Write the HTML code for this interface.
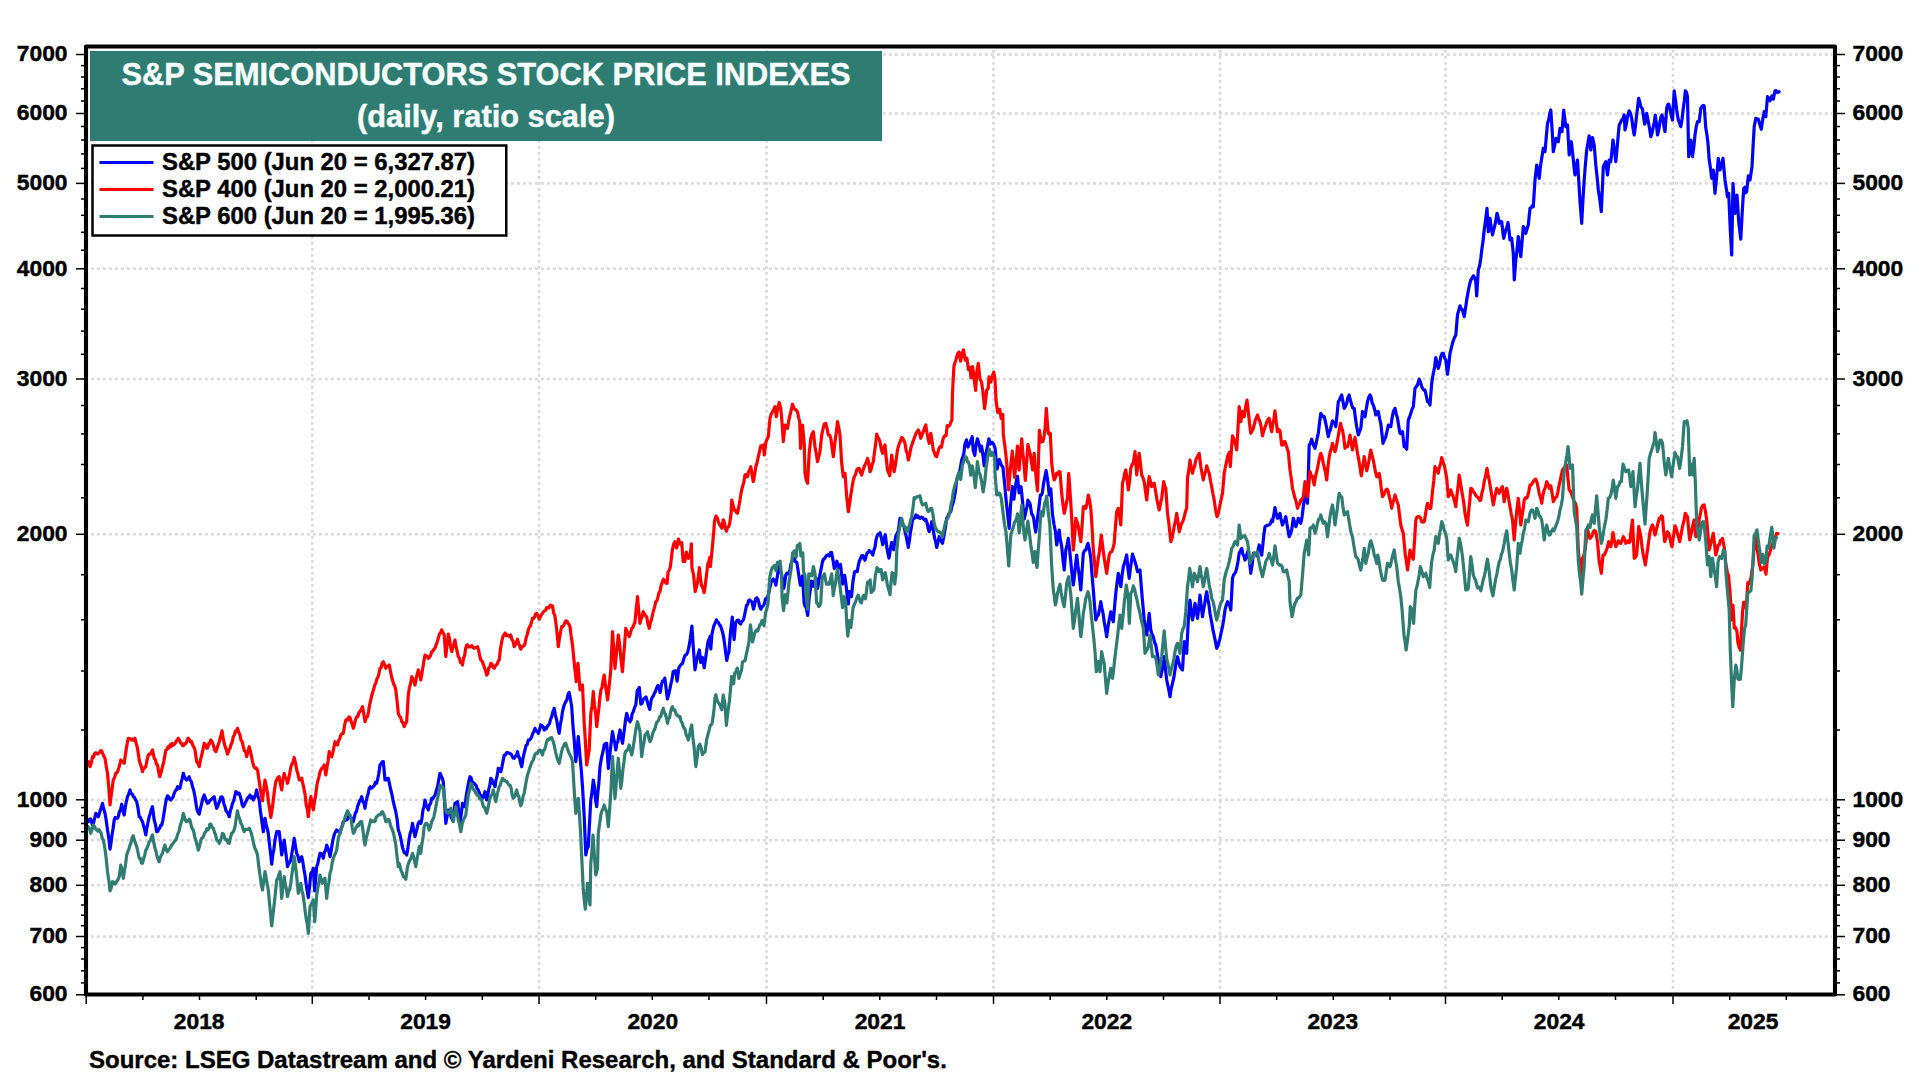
<!DOCTYPE html>
<html><head><meta charset="utf-8"><title>S&amp;P Semiconductors Stock Price Indexes</title>
<style>html,body{margin:0;padding:0;background:#fff;}body{width:1920px;height:1080px;overflow:hidden;}svg{display:block;}text{font-family:"Liberation Sans",sans-serif;font-weight:bold;}</style></head><body>
<svg width="1920" height="1080" viewBox="0 0 1920 1080">
<rect x="0" y="0" width="1920" height="1080" fill="#ffffff"/>
<g stroke="#d8d8d8" stroke-width="2.5" stroke-dasharray="2.8 3.2" fill="none"><line x1="91" y1="936.5" x2="1832" y2="936.5"/><line x1="91" y1="885.3" x2="1832" y2="885.3"/><line x1="91" y1="840.2" x2="1832" y2="840.2"/><line x1="91" y1="799.8" x2="1832" y2="799.8"/><line x1="91" y1="534.3" x2="1832" y2="534.3"/><line x1="91" y1="379" x2="1832" y2="379"/><line x1="91" y1="268.8" x2="1832" y2="268.8"/><line x1="91" y1="183.4" x2="1832" y2="183.4"/><line x1="91" y1="113.5" x2="1832" y2="113.5"/><line x1="91" y1="54.5" x2="1832" y2="54.5"/><line x1="312.3" y1="50" x2="312.3" y2="992"/><line x1="539" y1="50" x2="539" y2="992"/><line x1="766.5" y1="50" x2="766.5" y2="992"/><line x1="993.5" y1="50" x2="993.5" y2="992"/><line x1="1220" y1="50" x2="1220" y2="992"/><line x1="1445.5" y1="50" x2="1445.5" y2="992"/><line x1="1673" y1="50" x2="1673" y2="992"/></g>
<polyline points="88.3,821.7 89.6,819.2 90.8,819.2 92.5,825 93.6,822.3 94.7,818.1 95.8,813.3 97.1,814.2 98.3,816.7 99.4,813.3 100.4,809.8 101.5,807.2 102.5,803.3 103.8,809.3 105,813.3 106.2,820.3 107.5,830 108.8,838 110,849.2 111,843 112.1,834.4 113.1,828.2 114.2,820 115.2,817.5 116.2,818.1 117.3,818.3 118.3,816.7 119.4,811.6 120.6,809.8 121.7,804.2 122.9,810.9 124.2,815 125.3,807.3 126.4,801.2 127.5,796.7 128.8,793.5 130,790 131.1,793.7 132.2,794 133.3,796.7 134.4,797.4 135.6,799.7 136.7,801.7 137.9,807.6 139.2,816.7 140.3,817.4 141.4,819.8 142.5,821.7 143.6,826.1 144.7,829.6 145.8,835 146.9,828 148.1,821.8 149.2,816.7 150.3,813.2 151.4,809.3 152.5,806.7 154.2,820 155.4,824.2 156.7,831.7 157.7,831.5 158.7,829.2 159.7,828.2 160.7,825.3 161.7,825 162.8,820.6 163.9,814 165,806.7 166.2,800 167.5,795.8 168.6,796.7 169.7,799.4 170.8,800 171.9,798.5 173.1,797 174.2,793.3 175.3,790.8 176.4,790 177.5,786.7 178.8,788.1 180,788.3 181.1,782.7 182.2,778.6 183.3,773.3 184.4,776.9 185.6,779 186.7,780 187.9,778.4 189.2,776.7 190.3,780.3 191.4,781.8 192.5,786.7 193.8,790.8 195,796.7 196.7,808.3 197.9,812.3 199.2,814.2 200.4,808.5 201.7,803.3 202.9,798.1 204.2,795 205.3,797.9 206.4,801.2 207.5,803.3 208.6,802.8 209.7,800.7 210.8,800 211.9,798.7 213.1,797.8 214.2,796.7 215.4,803.4 216.7,808.3 217.7,806.1 218.7,803.3 219.7,801.3 220.7,797.4 221.7,796.7 222.8,798.4 223.9,804 225,806.7 226,810.8 227.1,812 228.1,813.8 229.2,816.7 230.3,811.1 231.4,807.8 232.5,803.3 233.6,801.1 234.7,796.5 235.8,791.7 236.9,792.4 238.1,794 239.2,793.3 240.2,795.8 241.2,800 242.3,804.9 243.3,806.7 244.4,804.7 245.6,802.1 246.7,800 247.8,797.5 248.9,796.8 250,795 251.1,798.2 252.2,796.7 253.3,800 254.4,797.6 255.6,794.4 256.7,790 257.9,796.3 259.2,800 260.4,810.8 261.7,820 263.3,831.7 265,818.3 266.1,824.4 267.2,828.4 268.3,833.3 269.4,843.8 270.6,853.6 271.7,864.2 272.8,854.6 273.9,849.3 275,840 276.7,831.7 277.9,831.9 279.2,831.7 280.4,842.3 281.7,855 282.9,847.5 284.2,840 285.3,848.8 286.4,857.3 287.5,866.7 288.6,863.9 289.7,862.4 290.8,860 291.9,853.2 293.1,845.9 294.2,838.3 295.4,845.7 296.7,853.3 297.9,855.9 299.2,861.7 300.4,858.2 301.7,856.7 302.8,861.7 303.9,869.2 305,875 306.1,883.7 307.2,891 308.3,897.5 309.6,886.4 310.8,873.3 312.1,871.9 313.3,868.3 314.7,890.8 315.7,877.9 316.7,866.7 317.8,863.4 318.9,858.4 320,853.3 321.1,853.6 322.2,855 323.3,858.3 324.4,852.2 325.6,850.3 326.7,845 327.8,848 328.9,851.5 330,856.7 331.1,851 332.2,843.9 333.3,838.3 334.4,834.1 335.6,831.6 336.7,830 337.8,831.2 338.9,831.1 340,833.3 341.1,828.7 342.2,826.3 343.3,821.7 344.4,821 345.6,820 346.7,820 347.8,818.8 348.9,816.2 350,816.7 351.1,817.9 352.2,819.7 353.3,821.7 354.4,816.9 355.4,812.8 356.5,811.8 357.5,806.7 358.5,804.2 359.6,800.7 360.6,799.5 361.7,796.7 362.8,801.6 363.9,802.8 365,808.3 366,801.7 367.1,797.1 368.1,794.1 369.2,788.3 370.2,786.8 371.2,788.2 372.3,787.7 373.3,786.7 374.4,785.2 375.4,782.4 376.5,783.3 377.5,780 378.8,773.5 380,765 381.1,763.9 382.2,761.8 383.3,761.7 385,780 386.1,779.9 387.2,778.5 388.3,778.3 389.6,784.4 390.8,790 392.1,795.2 393.3,801.7 394.6,807.1 395.8,811.7 397.1,819.3 398.3,830 399.6,833.5 400.8,838.3 402.1,845.8 403.3,850 404.4,852.9 405.6,852.7 406.7,855 407.9,847.9 409.2,838.3 410.3,832.7 411.4,829.8 412.5,823.3 413.8,830.8 415,836.7 416,832.6 417.1,828.3 418.1,823.7 419.2,821.7 420.8,823.3 421.9,818.8 422.9,810.1 424,806.9 425,800 426.1,804.9 427.2,806.9 428.3,810 429.4,805 430.6,803.5 431.7,798.3 432.8,798.8 433.9,796.8 435,795 436.2,790.9 437.5,786.7 438.8,779.6 440,773.3 441.1,775.6 442.2,777.9 443.3,781.7 444.6,803.1 445.8,823.3 447.1,816.4 448.3,810 449.4,811.5 450.4,813.7 451.5,818.1 452.5,820 453.8,811 455,803.3 456.2,802.5 457.5,801.7 458.8,811.9 460,823.3 461.2,814.6 462.5,803.3 463.8,806.4 465,806.7 466.2,795.9 467.5,788.3 468.8,781.5 470,776.7 471,777.7 472.1,781.7 473.1,782.6 474.2,783.3 475.2,784.5 476.2,785.7 477.3,788.9 478.3,790 479.4,793.2 480.4,795.6 481.5,795.7 482.5,798.3 483.8,796.3 485,791.7 486.7,800 487.7,795.2 488.8,789.1 489.8,785.4 490.8,778.3 491.9,779.5 492.9,783.3 494,783.2 495,786.7 496.1,779.4 497.2,775.8 498.3,768.3 499.6,769 500.8,771.7 501.9,767 503.1,760.9 504.2,755 505.4,754.9 506.7,752.5 507.9,752.7 509.2,753.2 510.4,753.7 511.7,755 512.9,757.9 514.2,758.3 515.3,756.5 516.4,755.4 517.5,751.7 518.5,756.7 519.6,757.9 520.6,763.1 521.7,766.7 522.8,759.8 523.9,754 525,750 526.1,745.2 527.2,744.6 528.3,740 529.4,739.9 530.6,738.9 531.7,736.7 532.8,733.3 533.9,731.5 535,728.3 536.1,731 537.2,731.3 538.3,733.3 539.6,729.4 540.8,725 541.9,725.7 543.1,726.9 544.2,730 545.2,728 546.2,728.8 547.3,726.5 548.3,725 549.4,723.7 550.6,719.3 551.7,716.7 552.9,711.7 554.2,708.3 555.4,715.1 556.7,720 557.9,727.8 559.2,733.3 560.3,724.5 561.4,719.5 562.5,711.7 563.6,706.9 564.7,703.7 565.8,701.7 566.9,699.9 568.1,694 569.2,692.5 570.4,698.7 571.7,706.7 572.9,725 574.2,740 575.8,761.7 577.1,748.7 578.3,736.7 580,756.7 581.2,769.2 582.5,786.7 584.2,816.7 585.8,855 587.1,848.7 588.3,846.7 589.6,821.7 590.8,800 592.1,791.6 593.3,780 594.4,786.3 595.6,800.4 596.7,806.7 597.8,792.6 598.9,783 600,766.7 601.7,756.7 602.9,752.2 604.2,745 605.4,743.5 606.7,743.3 608.3,768.3 609.4,758.3 610.4,749.9 611.5,739.5 612.5,731.7 613.6,738.3 614.7,742.3 615.8,750 616.9,743.3 617.9,741.6 619,734.3 620,730 621.2,737 622.5,743.3 623.5,735.7 624.6,727.7 625.6,719.3 626.7,713.3 627.8,717.5 628.9,720.5 630,721.7 631.1,719.9 632.2,713.7 633.3,711.7 634.6,707.4 635.8,705 637.2,690.6 638.2,689.5 639.3,687.5 640.8,704.2 642.1,703.2 643.4,699 644.7,698.1 646,696.9 647.3,701.7 648.5,705.8 649.7,709.4 651.2,700 652.3,697.1 653.3,696 654.4,693.1 655.4,691.7 656.7,687.7 658,685.4 659.1,687.6 660.1,692.7 661.7,683.3 662.7,680.9 663.8,681.5 664.8,678.1 666.1,688.4 667.4,699 668.7,694.3 670,688.5 671,683.5 672.1,678.9 673.1,671.9 674.4,671 675.7,670.8 677.1,681.2 678.9,667.7 680.1,665.7 681.3,664.3 682.5,663.5 683.8,658.8 685.1,655.2 686.4,654.8 687.7,652.1 689,646.7 690.3,638.5 691.9,626 693.4,649 695,669.8 696.3,662.4 697.6,656.2 699.4,650 700.7,662.5 702.3,657.3 704.2,667.7 705.9,656.2 707,648.4 708,641.7 709.1,639.2 710.1,636.5 710.8,649 711.9,634.4 713.8,626 715.1,623.2 716.4,619.8 717.4,621.9 718.4,622.4 719.5,625 720.5,625.8 721.6,629 722.6,632.3 723.6,637.1 724.7,644.8 725.7,652.8 726.8,660.4 727.8,654.8 728.9,652.1 730.4,633.3 732.3,617.2 734.1,639.6 735.6,622.9 737.2,620.3 738.4,620.1 739.6,623.2 740.8,624 741.9,621.2 742.9,620.8 744,617.7 745.3,611.4 746.6,605.2 747.6,604.7 748.6,600.6 749.7,600 750.8,600.9 752,601.9 753.5,609.2 754.6,605 755.6,598.8 756.9,597.8 758.2,599.8 759.5,606 760.8,609.2 762.1,606.5 763.4,606 764.5,603.3 765.5,598.8 766.6,599.4 767.6,596.7 768.6,593.6 769.7,588.3 771.2,582.1 772.3,579.9 773.3,579 774.6,580.7 775.9,585.2 777,578.5 778,571.7 779.6,565.4 780.6,571.5 781.7,574.8 782.7,580.9 783.8,588.3 784.8,582.9 785.8,574.8 786.9,573.1 787.9,573.8 789,573.1 790,569.6 791,563.8 792.1,561.2 793.1,559.1 794.2,558.1 795.5,561.6 796.8,562.3 798.3,571.7 799.4,579.5 800.4,585.2 801.5,581.9 802.5,575.8 804.1,602.9 805.1,606.2 806.1,607.1 807.7,615.4 809.3,596.7 810.3,589.7 811.4,581 812.4,584.3 813.4,586.2 814.7,581 816,577.9 817.6,588.3 819.2,579 820.2,573.5 821.2,568.5 822.3,562.7 823.3,559.2 824.4,558.7 825.4,557.3 826.5,555.5 827.8,554.9 829.1,556 830.3,552.7 831.5,552.4 833.2,561.2 834.3,568.5 835.6,566.5 836.9,561.2 837.9,565.4 839,567.5 840.5,564.4 841.6,574.4 842.6,584.2 843.6,579.9 844.7,575.3 846.2,586.2 847.3,596.3 848.3,604 849.4,591.5 850.4,593.9 851.5,596.7 853,581 854.6,571.7 855.9,571.3 857.2,571.7 858.2,565.9 859.3,561.2 860.5,558.5 861.7,555.8 862.9,555.5 864,558.4 865,560.2 866,556.3 867.1,552.9 868.1,552.6 869.2,550.4 870.2,551.4 871.5,552.7 872.8,555 873.9,550.1 874.9,547.7 875.9,540.7 877,536.2 878,534.2 879.1,534.9 880.1,532.6 881.4,538.2 882.7,544.6 884,539.3 885.3,534.7 886.9,547.7 887.9,553.3 889,558.1 890.3,549.4 891.6,542.5 892.6,544.5 893.6,549.8 894.7,543.1 895.7,536.2 897,533.6 898.3,531 900,518.3 901,520.9 902.1,522.3 903.1,525.2 904.2,526.7 905.2,532.7 906.2,536.2 907.3,542.3 908.3,547.5 909.4,540.6 910.4,532.8 911.5,526.6 912.5,520 913.6,518.5 914.7,518.1 915.8,515 916.9,517.3 917.9,515.9 919,518 920,518.3 921.2,517 922.3,517.2 923.5,518.9 924.7,520.3 925.8,519.2 926.9,522.2 928.1,528.4 929.2,531.7 930.4,528 931.7,521.7 932.7,526.2 933.7,532.7 934.7,538.4 935.7,541.9 936.7,547.5 937.9,542.8 939.2,536.7 940.3,539.7 941.4,541.4 942.5,543.3 943.5,538.3 944.6,532.2 945.6,526.1 946.7,518.3 947.7,516.9 948.8,513.9 949.8,512.5 950.8,511.7 951.9,506.3 953.1,503 954.2,498.3 955.3,492 956.4,482.4 957.5,476.7 958.8,474 960,470 961.8,459.6 962.8,457.2 963.9,453.3 964.9,444 966.5,439.8 968,447.1 969.1,444.5 970.1,442.9 971.1,439.8 972.2,436.7 973.2,450.2 974.8,455.4 975.8,446 977.4,438.8 979,444 980.5,451.2 981.6,446 983.1,456.5 984.2,465.8 985.7,454.4 987.3,447.1 988.9,438.8 990.4,444 992,442.4 993.5,444 995.1,448.1 996.1,459.6 997.2,469 998.2,463.1 999.3,459.6 1000.8,463.8 1001.9,466.1 1002.9,466.9 1004.5,482.5 1006,499.2 1007.6,513.8 1009.2,528.3 1010.7,503.3 1012.3,486.7 1013.9,499.2 1015.4,486.7 1016.5,479.9 1017.5,476.2 1019.1,492.9 1020.1,491.4 1021.1,486.7 1022.7,503.3 1024.3,519 1025.8,511.7 1026.9,507 1027.9,500.2 1029,502.2 1030,503.3 1031.6,513.8 1032.6,515 1033.6,517.9 1034.7,526.4 1035.7,532 1037.3,520 1038.9,507.5 1040.4,495 1041.5,495 1042.5,491.9 1043.5,483.9 1044.6,478.3 1046.1,470.5 1047.7,480.4 1049.3,495 1050.8,488.8 1052.4,513.8 1054,524.2 1055.5,532 1056.7,545 1057.9,538.4 1059.2,530 1060.4,539.5 1061.7,546.7 1062.9,558.9 1064.2,570 1065.8,550 1067.1,544.8 1068.3,538.3 1069.6,549.8 1070.8,561.7 1072.1,574.8 1073.3,585 1074.4,576.6 1075.6,564.6 1076.7,555 1077.9,566 1079.2,575 1080.8,590 1082.1,571.4 1083.3,553.3 1084.6,550.5 1085.8,550 1086.9,546.1 1088,543.3 1089.4,549.6 1090.8,558.3 1092.1,575.6 1093.3,590 1094.6,606.6 1095.8,620 1097.1,616.2 1098.3,615 1099.6,608.7 1100.8,601.7 1101.9,608 1103.1,613.7 1104.2,621.7 1105.4,628.5 1106.7,636.7 1107.9,627.5 1109.2,620 1110.8,611.7 1112.1,617.5 1113.3,621.7 1115,601.7 1116.1,590.5 1117.2,581.7 1118.3,573.3 1119.6,579.8 1120.8,586.7 1122.1,575 1123.3,566.7 1124.4,563.2 1125.6,559.2 1126.7,555 1127.9,567.8 1129.2,578.3 1130.3,569.3 1131.4,561.5 1132.5,554.2 1133.8,558.1 1135,561.7 1136.2,565.9 1137.5,571.7 1138.8,571.1 1140,570 1141.7,591.7 1142.9,605 1144.2,620 1145.4,628.1 1146.7,635 1147.9,625.2 1149.2,613.3 1150.8,630 1152.1,634.4 1153.3,636.7 1154.6,642.4 1155.8,645 1157.1,652.7 1158.3,660 1159.6,668.3 1160.8,676.7 1161.9,671.2 1163.1,664.2 1164.2,656.7 1165.4,668.6 1166.7,680 1167.8,685.2 1168.9,690.4 1170,696.7 1171.2,688.7 1172.5,683.3 1173.8,677.7 1175,670 1176.2,662 1177.5,656.7 1178.8,662.5 1180,666.7 1181.2,668.5 1182.5,670 1184.2,641.7 1185.4,649.1 1186.7,653.3 1188.3,620 1190,600 1191.2,610.9 1192.5,620 1193.8,613.3 1195,603.3 1196.2,609.6 1197.5,618.3 1198.8,606.7 1200,595 1201.2,606.1 1202.5,616.7 1203.5,609.8 1204.6,604.2 1205.6,597.4 1206.7,591.7 1207.8,599 1208.9,604.4 1210,613.3 1211.1,619.2 1212.2,625.4 1213.3,631.7 1214.4,636.6 1215.6,642.4 1216.7,648.3 1217.8,646 1218.9,642.3 1220,638.3 1221.2,632.5 1222.5,626.7 1223.8,618.8 1225,610 1226.2,605.4 1227.5,601.7 1228.6,603.4 1229.7,605.5 1230.8,610 1232.5,578.3 1233.5,575.1 1234.6,573.7 1235.6,572.1 1236.7,568.3 1237.9,562 1239.2,553.3 1240.4,550.9 1241.7,548.3 1242.8,553.9 1243.9,556 1245,560 1246.1,557.8 1247.2,553 1248.3,550 1249.6,562.5 1250.8,573.3 1252.1,565 1253.3,553.3 1254.4,553.5 1255.6,553.9 1256.7,555.8 1257.9,550.8 1259.2,545 1260.4,550.1 1261.7,555 1262.8,545.1 1263.9,534.4 1265,526.7 1266,525.9 1267.1,525.6 1268.1,525.1 1269.2,525 1270.4,523.7 1271.7,520 1272.5,521.7 1273.8,514.9 1275,507.5 1276.2,513.7 1277.5,518.3 1278.8,517.2 1280,513.3 1281.2,520 1282.5,525 1283.6,522.2 1284.7,520.3 1285.8,516.7 1286.9,523.8 1288.1,530.5 1289.2,536.7 1290.4,533.8 1291.7,530 1293.3,518.3 1294.6,522.2 1295.8,526.7 1297.1,522.9 1298.3,518.3 1299.6,521.3 1300.8,523.3 1302.1,516.5 1303.3,506.7 1305,493.3 1306.2,499.3 1307.5,503.3 1309.2,445 1310.4,443.3 1311.7,439.2 1312.8,443.1 1313.9,446.3 1315,448.3 1316.1,443.7 1317.2,437.8 1318.3,433.3 1319.6,422.5 1320.8,413.3 1321.9,415.2 1323.1,416.8 1324.2,416.7 1325.8,423.3 1327.1,430.2 1328.3,436.7 1329.4,431.5 1330.4,429.9 1331.5,424.7 1332.5,420.8 1333.6,422.7 1334.7,423.2 1335.8,426.7 1337.1,414.2 1338.3,401.7 1339.4,400.3 1340.6,397 1341.7,395 1342.9,401.2 1344.2,408.3 1345.4,406.4 1346.7,403.3 1347.9,397.5 1349.2,395 1350.4,400 1351.7,405 1352.9,408.2 1354.2,408.3 1355.4,418.1 1356.7,426.7 1358.3,435 1359.6,431.3 1360.8,428.3 1362.5,411.7 1363.8,414.8 1365,416.7 1366.2,409.5 1367.5,401.7 1368.8,397.3 1370,395 1371.1,397.3 1372.2,403 1373.3,405 1374.6,409.2 1375.8,415 1377.1,411.9 1378.3,411.7 1379.6,418.6 1380.8,423.3 1381.9,433.4 1383,443.3 1384.4,439.6 1385.8,436.7 1387.1,430.9 1388.3,425 1389.6,426.6 1390.8,426.7 1392.1,418 1393.3,411.7 1395,408.3 1396.2,413.9 1397.5,418.3 1398.8,426.6 1400,433.3 1401.2,433.6 1402.5,431.7 1404.2,446.7 1405.4,447.1 1406.7,449.2 1408.3,420 1409.6,417 1410.8,413.3 1412.1,409.1 1413.3,406.7 1415,388.3 1416.2,386.9 1417.5,385 1419.2,379.2 1420.4,381.8 1421.7,386.7 1422.8,388.8 1423.9,390.1 1425,390 1426.2,395.3 1427.5,401.7 1428.8,402.4 1430,405 1431.7,383.3 1433.3,373.3 1434.6,367 1435.8,357.5 1437.1,363.6 1438.3,368.3 1439.6,363.7 1440.8,356.7 1442.1,353.4 1443.3,353.3 1444.6,358 1445.8,360 1447.5,374.2 1448.8,364.2 1450,353.3 1451.7,346.7 1452.9,341.9 1454.2,338.3 1455.8,335 1457.5,315 1458.8,310.2 1460,305.8 1461.2,308.8 1462.5,310 1464.2,316.7 1465.4,309.3 1466.7,300 1468.3,290.8 1469.6,284.4 1470.8,280 1472.1,278.3 1473.3,275.8 1474.6,277.6 1475.8,281.7 1476.7,295.8 1478.3,270 1479.6,265.8 1480.8,258.3 1481.9,248.7 1483.1,240.8 1484.2,230 1485.6,219.9 1487,208.3 1488.3,231.7 1490,218.3 1491.2,227 1492.5,235 1493.8,229.2 1495,225 1496,219.3 1497,213.3 1498.1,217.1 1499.2,223.3 1500.4,221.3 1501.7,221.7 1502.7,230.7 1503.7,238.3 1504.8,233.7 1505.8,230 1506.9,227.1 1508,222.5 1509,230.4 1510,240 1511.7,238.3 1513.3,253.3 1514.3,280 1515.8,260 1517.1,249.1 1518.3,236.7 1519.6,247.4 1520.8,256.7 1522.1,241 1523.3,226.7 1524.6,228.7 1525.8,233.3 1527.1,228.8 1528.3,225 1530,208.3 1531.1,207.8 1532.2,205.9 1533.3,206.7 1535,180 1536.7,165 1537.9,170.6 1539.2,178.3 1540.4,166.8 1541.7,158.3 1543.3,148.3 1545,151.7 1546.2,137.8 1547.5,123.3 1548.6,120.2 1549.7,113.5 1550.8,110 1552.1,129.3 1553.3,151.7 1554.6,145.7 1555.8,138.3 1557.1,141.1 1558.3,141.7 1560,128.3 1561,131.6 1562,131.7 1563.7,110 1564.8,118.7 1565.8,126.7 1567.5,125 1569.2,155 1570.2,147.8 1571.3,141.7 1573,156.7 1574,167 1575,175 1576.2,166.2 1577.5,160 1578.8,181.5 1580,201.7 1581.7,223.3 1582.9,200.3 1584.2,180 1585.4,164.7 1586.7,150 1587.9,142.9 1589.2,135.8 1590.8,150 1592.5,137.5 1594.2,145 1595.8,165 1597.1,177.1 1598.3,190 1599.3,196.1 1600.3,203.5 1601.3,211.7 1602.3,190.3 1603.3,166.7 1604.6,164 1605.8,161.7 1607.5,175 1609.2,160 1610.8,161.7 1611.9,151.1 1613,140 1614.4,149.9 1615.8,161.7 1616.9,150.2 1618.1,136.6 1619.2,125 1620.4,122.8 1621.7,120 1622.9,118.9 1624.2,115 1625,130 1626.2,125 1627.5,116.7 1629.2,110.8 1630.4,113 1631.7,118.3 1632.9,127.7 1634.2,135 1635.4,126.2 1636.7,115 1637.7,106.1 1638.7,98.3 1639.8,102.1 1640.8,106.7 1642.5,109.2 1643.6,116.9 1644.7,124.2 1645.7,120.2 1646.7,113.3 1648.3,121.7 1649.6,128.8 1650.8,136.7 1652.1,133 1653.3,126.7 1654.3,121.7 1655.3,115 1656.4,123.8 1657.5,135 1658.8,129.7 1660,121.7 1661,116.7 1662,115 1663,119.3 1664,126.7 1665,131.7 1666.7,108.3 1667.7,104.7 1668.7,104.2 1669.8,108.3 1670.8,113.3 1672.5,120 1674.2,90.8 1675.4,99.2 1676.7,110 1678.3,120 1679.6,123.2 1680.8,126.7 1682.1,118.7 1683.3,108.3 1684.3,101 1685.3,90.8 1686.4,92.2 1687.5,96.7 1688.7,156.7 1689.8,146.8 1690.8,140 1692.5,156.7 1693.8,147 1695,135 1696.2,126.8 1697.5,121.7 1699.2,121.7 1700.8,108.3 1701.9,106.7 1703.1,105.4 1704.2,105.8 1705.8,128.3 1706.9,134.4 1708,143.3 1709.2,160 1710.4,167.6 1711.7,178.3 1713.3,170 1715,193.3 1716.1,182.1 1717.2,170.8 1718.3,158.3 1720,170 1721,166.7 1722,163.4 1723,158.3 1724,169.7 1725,180 1726.2,188 1727.5,196.7 1728.7,193.3 1730.3,230 1731.7,255 1733,183.3 1734,199 1735,213.3 1736,206.4 1737,195 1738.7,221.7 1739.8,231.1 1740.8,239.2 1742.2,212.5 1743.7,188.3 1744.7,187.3 1745.7,192.6 1746.7,191.7 1748.3,175.8 1750,180 1751,173.6 1752,166.7 1753.1,146.2 1754.2,126.7 1755.8,118.3 1757.1,119.1 1758.3,119.2 1759.3,122.7 1760.3,125.9 1761.3,129.2 1762.8,118.9 1764.2,111.7 1765.8,116.7 1767.5,96.7 1768.8,98.3 1770,100.8 1771,98 1772,95.8 1773.3,99.2 1775,90.8 1776.2,90.6 1777.5,92.5 1779.2,91.7" fill="none" stroke="#0000ff" stroke-width="3.2" stroke-linejoin="round" stroke-linecap="round"/>
<polyline points="88.3,761.7 90,766.7 91.2,763.2 92.5,756.7 93.5,757.4 94.6,753.5 95.6,752.8 96.7,753.3 97.7,754 98.7,753.1 99.7,752.4 100.7,750.7 101.7,750.8 102.8,753.7 103.9,756.2 105,758.3 106.2,766.1 107.5,773.3 108.8,788 110,805 111.1,796.4 112.2,788 113.3,780 114.6,777.4 115.8,773.3 116.9,772.8 118.1,770.4 119.2,766.7 120.8,760 121.9,761.3 123.1,762 124.2,763.3 125.2,756.3 126.2,749.3 127.3,743 128.3,738.3 129.4,738.8 130.6,738.8 131.7,740 132.8,739 133.9,740.2 135,738.3 136.2,743.4 137.5,748.3 139.2,760 140.3,764.1 141.4,766.9 142.5,771.7 143.6,768.4 144.7,767.7 145.8,766.7 147.1,759.6 148.3,755 149.4,753.8 150.4,754.2 151.5,751.8 152.5,750 154.2,758.3 155.3,759.5 156.4,764.1 157.5,765 158.6,771.8 159.7,776.7 161.1,772.5 162.5,766.7 163.6,762.5 164.7,756.4 165.8,750 166.9,749.7 167.9,747 169,747.9 170,745 171,746.4 172.1,743.4 173.1,745.2 174.2,744.2 175.2,743.4 176.2,741.1 177.3,739.9 178.3,738.3 179.3,739.8 180.3,742.8 181.3,742.8 182.3,745.5 183.3,745.8 184.3,743.8 185.3,744.1 186.3,742.7 187.3,739.7 188.3,738.3 189.4,739.7 190.6,742 191.7,741.7 192.8,745.2 193.9,747.2 195,750 196.7,761.7 197.9,763.2 199.2,766.7 200.4,760.2 201.7,755 202.9,749.8 204.2,743.3 205.4,744.7 206.7,748.3 207.7,747.6 208.8,743.4 209.8,743.5 210.8,740 212.1,741.9 213.3,745 214.6,749.9 215.8,751.7 216.9,749 218.1,745 219.2,741.7 220.6,736.3 222,730.8 223.1,737.6 224.2,743.3 225.3,747.2 226.4,749.9 227.5,754.2 228.8,750.3 230,748.3 231.1,744.5 232.2,742 233.3,736.7 234.4,735 235.4,731.1 236.5,731.5 237.5,728.3 238.8,732.4 240,735 241.1,740.3 242.2,741.7 243.3,746.7 244.4,750.8 245.6,751.8 246.7,756.7 247.9,752.2 249.2,746.7 250.3,750.9 251.4,755.7 252.5,761.7 253.8,766.3 255,768.3 256.2,767.8 257.5,770 258.8,778.4 260,786.7 261.2,795 262.5,800.8 263.8,789.5 265,780 266.2,785.7 267.5,793.3 268.6,802.7 269.7,809.2 270.8,817.5 272.1,809.5 273.3,800 274.6,789.2 275.8,781.7 276.9,779.5 278.1,777.2 279.2,776.7 280.4,783.9 281.7,790 282.9,780.2 284.2,773.3 285.3,778.2 286.4,778.4 287.5,783.3 288.8,778.3 290,771.7 291,766.5 292.1,763.8 293.1,762.1 294.2,757.5 295.4,762.6 296.7,770 297.9,773.9 299.2,780 300.4,779.8 301.7,778.3 302.9,783.8 304.2,790 305.2,795.1 306.2,805 307.3,808.8 308.3,816.7 309.6,805.1 310.8,796.7 312.1,802.8 313.3,810 314.4,802.6 315.6,795.3 316.7,786.7 317.7,781.2 318.8,777.8 319.8,772.6 320.8,770 321.9,768.2 323.1,767.6 324.2,765 325.8,775 326.9,768 328.1,760.8 329.2,751.7 330.4,755 331.7,756.7 332.8,752.9 333.9,747.4 335,741.7 336.2,743.2 337.5,745 338.6,740.7 339.7,738.9 340.8,735 342.1,733.5 343.3,733.3 344.6,725.3 345.8,720 346.9,719.2 347.9,720 349,716.9 350,717.5 351.1,721.4 352.2,724.4 353.3,728.3 354.4,724.5 355.6,719.3 356.7,716.7 357.8,716.6 358.9,712.5 360,711.7 361.2,709.5 362.5,706.7 363.8,713.9 365,721.7 366.2,717.5 367.5,716.7 368.6,711.3 369.7,704.3 370.8,700 371.9,695 372.9,691.4 373.9,688.3 374.9,684.6 375.9,682.9 376.9,678.9 378,677 379,673.3 380,668.3 381.1,667.8 382.2,663 383.3,661.7 384.6,664.8 385.8,668.3 386.9,666.4 388.1,666.4 389.2,665 390.3,670.4 391.4,676 392.5,680 393.6,684 394.7,685.8 395.8,690 397.1,701.4 398.3,713.3 399.4,716.2 400.6,717.2 401.7,721.7 402.9,722.6 404.2,726.7 405.4,723.9 406.7,721.7 408.3,695 409.4,687.6 410.6,683.5 411.7,676.7 412.8,678.6 413.9,680.9 415,685 416.1,678.9 417.2,674.1 418.3,670 419.6,674 420.8,680 421.9,673.8 422.9,667.4 424,660.6 425,655 426.1,656.6 427.2,656.2 428.3,658.3 429.4,657.5 430.6,655.5 431.7,651.7 432.8,651.3 433.9,649.2 435,648.3 436.1,645 437.2,641.9 438.3,638.3 439.4,634 440.6,632.5 441.7,630 442.9,632.6 444.2,635 445.8,656.7 447.1,644.3 448.3,634.2 449.4,638.6 450.6,646.9 451.7,651.7 452.8,647.3 453.9,644 455,640 456.1,647 457.2,651.5 458.3,656.7 459.4,658 460.4,662.5 461.5,662.5 462.5,665 463.5,658.4 464.6,655.6 465.6,648.6 466.7,645 467.7,644.8 468.8,647 469.8,646.8 470.8,646.7 471.9,645.6 473.1,647.6 474.2,648.3 475.3,647.5 476.4,647.2 477.5,646.7 478.6,650.1 479.7,655.9 480.8,660 481.9,660.8 483.1,663.7 484.2,666.7 485.4,670.4 486.7,675 487.7,673.6 488.8,667.7 489.8,667.1 490.8,663.3 491.9,664 493.1,666.9 494.2,668.3 495.2,666.3 496.2,664.9 497.2,664.2 498.2,661.3 499.2,660 500.4,649.5 501.7,641.7 502.9,636.6 504.2,634.2 505.2,632.9 506.2,635.8 507.3,635.3 508.3,635 509.6,636.6 510.8,635 511.9,639.5 513.1,641.2 514.2,646.7 515.3,644.7 516.4,642.6 517.5,639.2 518.6,643.3 519.7,645.8 520.8,649.2 521.9,647.2 522.9,646.1 524,645.8 525,643.3 526.1,638.1 527.2,634.5 528.3,630 529.4,627 530.4,625.7 531.5,622.3 532.5,618.3 533.5,618.6 534.6,617 535.6,613.9 536.7,613.3 537.9,615.3 539.2,619.2 540.3,617.2 541.4,614.5 542.5,613.3 543.5,611.6 544.6,611 545.6,610.4 546.7,607.5 547.8,607.5 549,607.9 550.2,605.1 551.3,605.7 552.5,605.8 553.6,612.8 554.7,615.2 555.8,621.7 557.1,633.9 558.3,646.7 559.4,638.5 560.6,631.9 561.7,626.7 562.7,626.6 563.8,625.4 564.8,622.8 565.8,620.8 566.9,621 567.9,623.1 569,624.3 570,626.7 571.2,636.4 572.5,645 573.8,658.7 575,670 576.3,681.7 578,663.3 579,676.3 580,690 581.2,687.7 582.5,685 584.2,723.3 585.4,741.7 586.7,765 587.9,757.8 589.2,750 590.8,713.3 592.1,705.4 593.3,691.7 594.4,705 595.6,712.4 596.7,726.7 597.8,716.8 598.9,708 600,696.7 601,689.7 602.1,687.2 603.1,680.3 604.2,675 605.3,684 606.4,691.3 607.5,700 608.6,691.7 609.7,681 610.8,670 612.5,631.7 613.8,650.2 615,668.3 616.1,656 617.2,645.9 618.3,635 619.4,642.6 620.4,653.7 621.5,663.8 622.5,671.7 623.6,656.1 624.7,642.8 625.8,628.3 626.9,631.1 628.1,633.6 629.2,636.7 630.4,633.2 631.7,628.3 632.8,627.6 633.9,624.6 635,621.7 636.2,609.1 637.5,596.7 638.8,611.6 640,623.3 641.1,618.9 642.2,616.4 643.3,611.7 644.4,613.9 645.6,615.9 646.7,616.7 647.9,623.7 649.2,628.3 650.3,623 651.4,619.9 652.5,615 653.6,610.2 654.7,606.7 655.8,601.7 656.9,600.8 657.9,597.1 659,592.5 660,591.7 660.8,586.5 662.1,582.7 663.4,579.2 664.7,581.3 665.9,583.2 667.1,583.3 668.1,571.9 669.2,570.3 670.2,567.7 671.2,559.9 672.3,550 673.6,544.2 674.9,541.7 676.5,547.9 677.5,545 678.5,539.1 680.1,543.8 681.7,542.7 683.2,561.5 684.8,561.5 686.4,552.1 687.4,556 688.4,558.3 690,556.2 691.4,543.8 691.9,567.7 693.6,575 695.2,591.7 696.2,587.9 697.3,583.3 698.3,576.9 699.4,567.7 700.4,577.9 701.5,585.4 702.8,587.7 704.1,592.7 705.1,586.5 706.1,578.1 707.7,564.6 708.8,561.8 709.8,557.3 710.4,566.7 711.9,552.1 713.8,531.2 714.5,520.8 716,516.1 717.1,517.5 718.1,520.8 719.3,524.1 720.6,526 721.8,528.1 723.3,519.8 724.4,522.6 725.4,528.5 726.5,531.2 727.5,527.6 728.5,526.8 729.6,524 731.1,513.5 731.7,500 732.9,504.8 734.2,510 735.3,510.3 736.4,512.4 737.5,513.3 738.8,506.6 740,500 741.2,492.3 742.5,486.7 743.8,482.4 745,475 746.2,474.4 747.5,476.7 748.6,471.6 749.7,470 750.8,466.7 752.1,475.3 753.3,481.7 754.6,474.7 755.8,466.7 757.1,462.5 758.3,456.7 759.6,451.2 760.8,445.8 762.1,446 763.3,445 764.3,455 765.8,442.5 767.1,439 768.3,436.7 770,418.3 771.2,414.2 772.5,411.7 773.8,409.2 775,406.7 776.3,416.7 777.8,408 779.2,402.5 780.8,408.3 782.1,423.6 783.3,441.7 785,425 786.2,427.5 787.5,428.3 788.8,420.6 790,415 791.2,410.4 792.5,404.2 793.8,407.6 795,409.2 796.2,410.1 797.5,411.7 798.6,417.3 799.7,421.7 800.5,448.3 801.5,437.6 802.5,425 804.2,443.3 805,473.3 806.2,479.6 807.5,483.3 809.2,453.3 810.8,438.3 812.1,433.8 813.3,431.7 815,446.7 816.2,453 817.5,461.7 818.8,456.3 820,451.7 821.7,435 822.9,429.5 824.2,424.2 825.8,423.3 827.1,428.5 828.3,435 829.6,435 830.8,438.3 832.1,447.7 833.3,456.7 835,441.7 836.2,433.3 837.5,421.7 838.8,427.9 840,435 841.7,463.3 843.3,476.7 845,473.3 846.7,496.7 848.3,511.7 849.6,503.5 850.8,495 852.1,487.1 853.3,480 854.4,476.5 855.6,474.6 856.7,470 857.9,468.5 859.2,468.3 860.4,472.2 861.7,475 862.9,470.8 864.2,466.7 865.3,464 866.4,462.5 867.5,458.3 868.8,463.6 870,471.7 871.1,469.4 872.2,464.3 873.3,461.7 874.4,453 875.6,444.3 876.7,434.2 877.8,437.2 878.9,438.8 880,441.7 881.2,448.7 882.5,453.3 883.8,447.8 885,445 886.2,458 887.5,470 888.6,472.5 889.7,475.8 890.7,465.5 891.7,455 892.9,464.5 894.2,471.7 895.3,465.5 896.4,457.7 897.5,450 898.5,446.2 899.6,442.8 900.6,440.5 901.7,437.5 902.8,438.5 903.9,440.6 905,443.3 906.1,450.4 907.2,453.1 908.3,460 909.6,455.2 910.8,448.3 911.9,444.6 913.1,441.2 914.2,438.3 915.2,435.6 916.2,432.7 917.3,431.9 918.3,430 919.6,433 920.8,438.3 922.1,434.8 923.3,431.7 924.6,427.6 925.8,425 926.9,432.5 928.1,438.7 929.2,443.3 930.8,433.3 932.1,441.5 933.3,450 934.4,452.7 935.6,455.9 936.7,456.7 937.8,452.7 938.9,448.6 940,446.7 941.5,447.1 942.5,441.5 943.5,437.7 944.8,435.6 946.1,435.6 947.2,425.7 948.5,426.1 949.8,425.2 950.8,422.2 951.9,420 952.5,392.5 953.9,366.5 954.9,362.8 955.9,360.2 957.5,354 959.1,351.9 960.6,361.2 962.2,354 963.5,349.8 965.3,360.2 966.9,358.1 968.4,369.6 970,367.5 971,377.9 972.6,366.5 974.2,380 975.7,390.4 976.8,371.7 978.3,363.3 979.9,379 981.5,382.1 983,392.5 984.6,408.6 985.6,400.5 986.7,390.4 988.2,388.3 989,376.9 990.8,382.1 992.4,375.8 993.8,372.2 995,379 996,399.8 997.6,412.3 998.6,409.8 999.7,409.2 1001.2,418.5 1002.8,414.4 1003.3,434.2 1005,447.1 1006.6,461.7 1007.6,476.8 1008.6,489.8 1010.2,470 1011.2,461.1 1012.3,451.2 1013.4,463.9 1014.6,477.3 1016,462.8 1017.5,446 1019.1,470 1020.4,453.8 1021.7,438.8 1022.7,451.5 1023.8,461.7 1025.3,480.4 1026.6,463.9 1027.9,444.5 1029.2,450 1030.5,455.4 1031.6,463.4 1032.6,470 1034.2,453.3 1035.2,467.4 1036.2,478.3 1037.5,490.8 1039.4,430.4 1041.2,441.9 1043,441.4 1044.1,435.7 1045.1,428.3 1046.3,408.3 1047.3,421.7 1048.3,433.3 1049.3,434.6 1050.3,433.3 1051.7,463.3 1052.9,473.1 1054.2,480 1055.4,477.5 1056.7,473.3 1057.8,474.4 1058.9,471.5 1060,471.7 1061.7,493.3 1062.9,503.7 1064.2,513.3 1065.3,508.9 1066.4,502.9 1067.5,498.3 1068.7,473.3 1069.8,488 1070.8,503.3 1072.1,525.6 1073.3,550 1074.6,535.7 1075.8,518.3 1077.1,522 1078.3,526.7 1079.6,534.1 1080.8,541.7 1082.1,525.5 1083.3,506.7 1084.6,506.4 1085.8,508.3 1087.1,503.2 1088.3,495 1089.6,500.4 1090.8,508.3 1092.1,527.6 1093.3,550 1094.6,562.8 1095.8,576.7 1097.1,567 1098.3,558.3 1099.3,552 1100.3,544.1 1101.3,535 1102.8,547.6 1104.2,558.3 1105.4,565.6 1106.7,573.3 1107.9,564.3 1109.2,555 1110.4,552.4 1111.7,551.7 1112.9,548.6 1114.2,543.3 1115.4,527.1 1116.7,511.7 1118.3,508.3 1119.6,515.9 1120.8,525 1122.5,483.3 1123.6,479.4 1124.7,473.3 1125.8,470 1127.1,479.4 1128.3,490 1129.6,480.6 1130.8,468.3 1132.1,464.5 1133.3,463.3 1135,451.7 1136.7,475 1137.9,463 1139.2,453.3 1140.4,463.2 1141.7,475 1142.9,477.5 1144.2,481.7 1145.4,490.6 1146.7,500 1147.9,487.5 1149.2,476.7 1150.4,481.1 1151.7,486.7 1152.9,484.1 1154.2,483.3 1155.4,489.9 1156.7,498.3 1157.9,504.5 1159.2,510 1160.4,503.6 1161.7,498.3 1162.7,489.6 1163.7,481.7 1164.8,485.9 1165.8,488.3 1167.5,513.3 1168.6,521.3 1169.7,531 1170.8,541.7 1172.1,537.9 1173.3,531.7 1174.4,525.3 1175.6,520.4 1176.7,513.3 1177.9,521.3 1179.2,531.7 1180.4,527.6 1181.7,523.3 1182.9,521.2 1184.2,516.7 1185.4,511.9 1186.7,508.3 1187.5,478.3 1188.8,470.1 1190,460 1191.2,467 1192.5,473.3 1193.6,468.5 1194.7,466.1 1195.8,460 1196.9,457.4 1198.1,455.5 1199.2,453.3 1200.8,466.7 1202.1,473.7 1203.3,480 1204.4,474.7 1205.6,471.7 1206.7,465.8 1207.9,469.9 1209.2,473.3 1210.4,480.3 1211.7,486.7 1212.9,493.5 1214.2,500 1215.6,510 1217,516.7 1218,514.4 1219,510 1220,505 1221.2,499 1222.5,493.3 1224.2,473.3 1225.3,467.5 1226.4,462.3 1227.5,456.7 1229.2,452.5 1230.3,466.7 1231.4,449.7 1232.5,435.8 1234.2,440 1235.4,443.7 1236.7,450 1237.9,430 1239.2,406.7 1240.8,421.7 1242.5,411.7 1244.2,416.7 1245.6,407.1 1247,400 1248.3,411.7 1249.6,424 1250.8,433.3 1251.9,431.2 1253.1,429.2 1254.2,425 1255.3,420.2 1256.4,417.7 1257.5,415 1258.8,419.3 1260,421.7 1261.2,427.1 1262.5,435.8 1263.6,430.9 1264.7,428.1 1265.8,425 1266.9,421.7 1268.1,419.4 1269.2,418.3 1270.4,425.6 1271.7,431.7 1272.8,423.3 1273.9,419.4 1275,410.8 1276.2,421.8 1277.5,431.7 1278.8,429.7 1280,430.8 1281.7,445 1282.8,445.2 1283.9,441.9 1285,441.7 1286.1,444.9 1287.2,448.5 1288.3,451.7 1290,470 1291.2,477.9 1292.5,488.3 1293.8,493.3 1295,498.3 1296.2,501.8 1297.5,508.3 1298.6,504.5 1299.7,504.2 1300.8,500 1302.1,499.4 1303.3,496.7 1305,481.7 1306.2,489.2 1307.5,496.7 1308.8,484.8 1310,471.7 1311.2,475.4 1312.5,476.7 1314.2,485 1315.4,477.1 1316.7,471.7 1317.7,467.1 1318.8,461.2 1319.8,456.6 1320.8,453.3 1322.1,457 1323.3,463.3 1324.4,467.9 1325.6,472.9 1326.7,480 1327.9,467.4 1329.2,456.7 1330.3,451.8 1331.4,448.2 1332.5,443.3 1333.8,448.7 1335,451.7 1336.1,447.8 1337.2,441.9 1338.3,435.8 1339.4,429.6 1340.5,423.3 1341.5,428.1 1342.5,430 1343.8,438 1345,448.3 1346.2,446.2 1347.5,446.7 1348.8,441.9 1350,435 1351.2,442.9 1352.5,450 1353.8,442.8 1355,437.5 1356.2,445 1357.5,453.3 1358.8,460.1 1360.1,468.1 1361.3,475.8 1362.8,466 1364.2,456.7 1365.4,463.4 1366.7,470.8 1367.7,466.6 1368.8,461.5 1369.8,455.4 1370.8,450 1371.9,454.9 1373.1,459.3 1374.2,465 1375.4,471.7 1376.7,476.7 1377.9,476.7 1379.2,473.3 1380.3,480.2 1381.4,489.6 1382.5,496.7 1383.6,495.1 1384.7,492.8 1385.8,490 1387.1,489.2 1388.3,491.7 1389.4,497.4 1390.6,501.8 1391.7,508.3 1392.8,502.8 1393.9,499.7 1395,495 1396.1,498.8 1397.2,502.1 1398.3,505 1399.6,515.8 1400.8,525 1402.1,529.9 1403.3,533.3 1404.3,544.1 1405.3,555 1406.4,561 1407.5,570 1408.8,560.9 1410,550 1411.1,554.2 1412.2,557.3 1413.3,559.2 1414.6,539.9 1415.8,520 1416.9,517.3 1418.1,516.7 1419.2,516.7 1420.4,517.8 1421.7,521.7 1422.9,522.1 1424.2,521.7 1425.3,515.7 1426.4,508.4 1427.5,503.3 1428.6,506.5 1429.7,508.3 1430.8,508.3 1432.5,491.7 1433.8,480.5 1435,466.7 1436.1,468.8 1437.2,470.4 1438.3,473.3 1439.4,467.1 1440.6,463.9 1441.7,457.5 1442.9,461.9 1444.2,465 1445.4,470.9 1446.7,478.3 1448.3,496.7 1449.6,494.7 1450.8,490 1451.9,493.6 1453.1,496.4 1454.2,500 1455.8,506.7 1456.9,495.8 1458.1,486.3 1459.2,475 1460.3,481.5 1461.4,488.9 1462.5,495 1463.8,502.9 1465,513.3 1466.2,519.9 1467.5,525 1468.6,512 1469.7,502 1470.8,488.3 1472.1,489 1473.3,491.7 1474.4,492.8 1475.6,495.1 1476.7,496.7 1477.7,497.1 1478.8,498.4 1479.8,500.6 1480.8,500 1481.9,492.9 1483.1,488.7 1484.2,481.7 1485.6,475.7 1487,468.3 1488.1,475.1 1489.2,480 1490.4,487.3 1491.7,495 1493.3,505 1494.4,499.3 1495.6,493.4 1496.7,488.3 1497.9,490.7 1499.2,493.3 1500.3,490.3 1501.4,487.8 1502.5,486.7 1504.2,501.7 1505.4,494.9 1506.7,488.3 1507.8,493.4 1508.9,500.5 1510,506.7 1511.2,513.6 1512.5,520 1514.2,540 1515.4,525.2 1516.7,511.7 1518.3,498.3 1519.6,510.5 1520.8,525 1521.9,517 1523.1,509.6 1524.2,500 1525.3,497.9 1526.4,498.2 1527.5,496.7 1528.8,491.4 1530,485 1531.1,485.2 1532.2,483.4 1533.3,481.7 1534.6,479.8 1535.8,479.2 1537.1,482.8 1538.3,488.3 1539.4,494.5 1540.6,497.7 1541.7,503.3 1542.9,495 1544.2,490 1545.4,487.1 1546.7,481.7 1547.9,484 1549.2,488.3 1550.8,485.8 1552.1,493.1 1553.3,501.7 1554.4,499.4 1555.6,497.5 1556.7,496.7 1557.8,492.4 1558.9,486.1 1560,481.7 1561.2,475.6 1562.5,470 1563.5,468.5 1564.6,468.6 1565.6,464.6 1566.7,465 1567.9,477.8 1569.2,490 1570.3,491 1571.4,493.3 1572.5,496.7 1573.5,499.9 1574.6,502.1 1575.6,503.9 1576.7,508.3 1578.3,550 1579.6,562.8 1580.8,575 1582.5,558.3 1583.8,555.6 1585,550 1586.2,540.5 1587.5,530 1588.8,534.2 1590,538.3 1591.1,537.1 1592.2,535.3 1593.3,531.7 1594.6,530.5 1595.8,531.7 1597.5,541.7 1599.2,561.7 1600.2,566.8 1601.3,573.3 1603,555 1604.4,554.9 1605.8,551.7 1607.2,548.1 1608.7,541.7 1609.8,543.2 1610.8,546.7 1611.9,540.3 1613,532.5 1614.4,540.9 1615.8,546.7 1617.1,544.1 1618.3,540.8 1619.6,542.8 1620.8,543.3 1622.1,540.1 1623.3,536.7 1624.6,539.1 1625.8,543.3 1626.9,541.9 1627.9,541 1629,542.6 1630,541.7 1631.2,529.6 1632.5,520 1634.2,558.3 1635.4,557.1 1636.7,555 1637.7,540.5 1638.7,526.7 1639.8,531.4 1640.8,536.7 1642.1,547.4 1643.3,555 1644.3,559.6 1645.3,565 1646.4,557.4 1647.5,550 1648.8,540.4 1650,531.7 1651.2,527.4 1652.5,525 1653.8,529.1 1655,535 1656.7,528.3 1657.9,523.4 1659.2,518.3 1660.3,518.9 1661.4,515.8 1662.5,516.7 1663.6,530.7 1664.7,541.7 1666.1,537.3 1667.5,531.7 1668.8,533.5 1670,538.3 1671,543.2 1672,546.7 1673,539.4 1674,532.8 1675,525.8 1676.2,528.2 1677.5,533.3 1678.6,537.5 1679.7,541.7 1681.1,534.2 1682.5,526.7 1683.9,521 1685.3,513.3 1686.4,515.3 1687.5,516.7 1688.6,529 1689.7,540 1691.1,534.1 1692.5,526.7 1694.2,520 1695.8,536.7 1697.1,530.7 1698.3,526.7 1699.3,518.9 1700.3,514.4 1701.3,508.3 1702.8,505.4 1704.2,505 1705.4,511.3 1706.7,520 1707.9,534.4 1709.2,550 1710.8,543.3 1712.1,538.5 1713.3,533.3 1714.6,544.6 1715.8,555 1717.1,550.5 1718.3,545 1719.4,544.8 1720.4,540.3 1721.5,540.2 1722.5,538.3 1724.2,546.7 1725.8,563.3 1727.5,573.3 1728.5,575.2 1730.1,592.9 1731.7,620 1733,605.4 1734.3,628 1735.6,627.7 1736.9,631.4 1737.9,642.6 1739.2,647.2 1740.4,650.2 1741.5,630.4 1742.6,611.7 1743.6,602.3 1745.2,602.3 1746.2,608.5 1747.8,582.5 1749.4,583.5 1750.9,578.3 1752,570.8 1753,563.8 1754.6,540.8 1756.1,537.7 1757.2,549.2 1758.2,555.2 1759.3,563.8 1760.8,570 1761.9,568.3 1762.9,568.5 1764,566.9 1765,570.4 1766,574.2 1767.6,556.5 1768.9,555.4 1770.2,551.2 1771.2,547.6 1772.3,545 1773.3,541.3 1774.4,538.8 1775.4,537.6 1776.5,533.5 1778,533.5" fill="none" stroke="#ff0000" stroke-width="3.2" stroke-linejoin="round" stroke-linecap="round"/>
<polyline points="88.3,826.7 89.6,829.1 90.8,833.3 92.1,829.3 93.3,825 94.4,826.2 95.6,828.7 96.7,830 97.8,831 98.9,829.6 100,831.7 101.1,832.8 102.2,838.4 103.3,840 104.6,846.7 105.8,855 107.5,871.7 108.8,880.3 110,890.8 111.2,887.9 112.5,881.7 113.6,882.1 114.7,883.9 115.8,883.3 116.9,881 118.1,879.4 119.2,876.7 120.8,865 122.1,870.5 123.3,878.3 124.4,871 125.6,864 126.7,855 127.8,851.7 128.9,849.2 130,845 131.1,842.5 132.2,837.4 133.3,835.8 134.4,840.3 135.6,843.4 136.7,846.7 137.9,851.8 139.2,858.3 140.3,858.4 141.4,862.9 142.5,863.3 143.6,858.8 144.7,855.2 145.8,850 146.9,848.5 148.1,845.2 149.2,841.7 150.3,840.9 151.4,836.9 152.5,835 153.8,842.7 155,848.3 156,851.5 157.1,856.5 158.1,859.6 159.2,861.7 160.3,857.5 161.4,854.9 162.5,853.3 163.8,848.2 165,845 166.2,849.9 167.5,851.7 168.6,849.8 169.7,848.8 170.8,846.7 171.8,844.7 172.8,844 173.8,842.3 174.8,840.8 175.8,840 176.9,837 177.9,833.6 179,831.4 180,826.7 181.1,822.8 182.2,819.2 183.3,813.3 184.4,817.3 185.6,820.6 186.7,821.7 187.9,821 189.2,819.2 190.2,820.7 191.2,825.8 192.3,828.9 193.3,830 194.6,836.4 195.8,840 197.1,845.2 198.3,850 199.4,846.8 200.6,841.2 201.7,838.3 202.7,837.8 203.8,835.3 204.8,832.6 205.8,831.7 206.8,828.7 207.8,829.9 208.8,828.8 209.8,824.3 210.8,824.2 212.1,827.3 213.3,828.3 214.4,831.9 215.6,834.9 216.7,840 217.9,841 219.2,843.3 220.3,840.9 221.4,837.9 222.5,833.3 223.6,834 224.7,838.2 225.8,840 226.9,839.6 228.1,843 229.2,843.3 230.4,837.8 231.7,833.3 232.8,832.4 233.9,830.5 235,826.7 236.2,818.8 237.5,810.8 238.6,816.7 239.7,818.5 240.8,823.3 241.9,824.7 243.1,829.2 244.2,831.7 245.2,829.4 246.2,829.3 247.2,829.4 248.2,829.4 249.2,828.3 250.3,830.5 251.4,833.4 252.5,838.3 253.8,844.6 255,848.3 256.2,851 257.5,855 258.8,866.6 260,875 261.2,883.8 262.5,890 263.8,880.4 265,871.7 266.1,877.6 267.2,884 268.3,890 269.4,902.4 270.6,914.2 271.7,925.8 272.8,916.3 273.9,906.8 275,896.7 276.7,880 277.8,878.7 278.9,874.5 280,871.7 281.7,898.3 282.9,887.3 284.2,876.7 285.3,884.1 286.4,889.1 287.5,896.7 288.6,891.5 289.7,889.4 290.8,883.3 291.9,874.5 293.1,865.7 294.2,856.7 295.4,865 296.7,876.7 298.3,893.3 299.6,888 300.8,883.3 301.9,890.3 303.1,895 304.2,903.3 305.2,911.2 306.2,918.8 307.3,924.3 308.3,933.3 310,906.7 311.1,904.9 312.2,902.1 313.3,900 314.7,921.7 315.7,908.9 316.7,895 317.8,887.8 318.9,882.4 320,875 321.2,880 322.5,883.3 323.8,879.2 325,878.3 326.7,898.3 327.8,888.5 328.9,882.3 330,873.3 331.1,869.9 332.2,862.5 333.3,858.3 334.4,855.4 335.6,853.1 336.7,850 338.3,838.3 339.4,834.4 340.4,831.2 341.5,827.7 342.5,825 343.5,821.7 344.5,819.7 345.5,815.8 346.5,813.2 347.5,810.8 348.8,813.8 350,815 351.1,819.5 352.2,827.5 353.3,833.3 354.4,831.9 355.6,828.2 356.7,826.7 357.7,824.7 358.7,825.7 359.7,822.8 360.7,821.6 361.7,821.7 362.8,829.2 363.9,837.9 365,845 366.1,838.6 367.2,834.4 368.3,830 369.6,824.4 370.8,820 371.9,821.7 373.1,820.9 374.2,821.7 375.2,821.2 376.2,817.2 377.3,816.1 378.3,815 379.4,814.7 380.4,814.6 381.5,812.3 382.5,811.7 383.6,814.1 384.7,817 385.8,821.7 386.9,821.2 388.1,819.5 389.2,820 390.3,824.4 391.4,827.8 392.5,830 393.6,833.9 394.7,839.2 395.8,845 397.1,856.9 398.3,866.7 399.2,863.3 400.2,867.1 401.2,871 402.3,872.8 403.3,876.7 404.6,876.7 405.8,879.2 407.5,866.7 408.8,862.6 410,860 411.2,857.7 412.5,853.3 413.6,857 414.7,861.7 415.8,866.7 416.9,859.7 418.1,853.1 419.2,846.7 420.8,853.3 421.9,844.1 423.1,837 424.2,826.7 425.4,823.8 426.7,823.3 427.9,825 429.2,830 430.4,827.3 431.7,821.7 432.8,819.6 433.9,816.7 435,811.7 436.2,804.8 437.5,798.3 438.8,793.2 440,785 441.1,787.6 442.2,786.3 443.3,788.3 444.6,800 445.8,810 447.1,812.8 448.3,813.3 449.6,811.4 450.8,808.3 452.1,815.1 453.3,821.7 454.6,813.4 455.8,806.7 457.1,812.8 458.3,820 459.6,824.9 460.8,831.7 462.1,824.4 463.3,820 464.6,817.8 465.8,815 467.1,804.3 468.3,795 469.6,790.2 470.8,783.3 471.9,784 473.1,789.2 474.2,790 475.2,791.9 476.2,793.9 477.3,795.1 478.3,795 479.4,798.4 480.4,799.4 481.5,799.6 482.5,803.3 483.5,806.7 484.6,807.2 485.6,810.2 486.7,813.3 487.8,808.9 488.9,803.4 490,798.3 491.1,795.3 492.2,794.3 493.3,790 494.6,796.2 495.8,801.7 496.9,796.1 498.1,790.8 499.2,786.7 500.3,785.1 501.4,781 502.5,778.3 503.6,780.4 504.7,780.1 505.8,781.7 506.9,781.5 507.9,783.5 509,785.2 510,785 511.1,788.3 512.2,794.9 513.3,798.3 514.4,797 515.6,793.8 516.7,790 517.7,795.1 518.8,796.2 519.8,802.3 520.8,805.8 521.9,802.9 523.1,796 524.2,793.3 525.3,786.4 526.4,780.3 527.5,775 528.6,771.8 529.7,768.1 530.8,765 531.9,762.1 533.1,760.4 534.2,756.7 535.3,753.9 536.4,752.9 537.5,753.3 538.8,750.4 540,750 541.2,751.2 542.5,755 543.5,750.2 544.6,749.9 545.6,746.2 546.7,741.7 547.7,739.4 548.7,740 549.7,738.5 550.7,737.7 551.7,737.5 552.9,740.7 554.2,745 555.4,751.3 556.7,756.7 557.9,760.3 559.2,763.3 560.3,757.9 561.4,752.3 562.5,748.3 563.6,746.1 564.7,743.7 565.8,743.3 566.9,746.9 568.1,750.7 569.2,753.3 570.3,755.7 571.4,757.5 572.5,761.7 574.2,790 575.8,813.3 577.1,803.8 578.3,798.3 579.6,816.7 580.8,836.7 581.7,856.7 583.3,890 584.3,900.3 585.3,909.2 586.4,898.1 587.5,883.3 588.8,893.4 590,905 590.8,863.3 591.9,851.1 593,835 594.4,855.8 595.8,875 597.5,868.3 598.3,833.3 599.6,823.7 600.8,815 601.9,810.9 603.1,808.3 604.2,805 605.4,809 606.7,811.7 608.3,826.7 609.6,809.7 610.8,793.3 612.5,756.7 613.8,778.2 615,798.3 616.1,784.9 617.2,770.8 618.3,758.3 619.6,773.5 620.8,788.3 621.9,780.2 622.9,769.4 624,761.8 625,753.3 626,751 627.1,750.5 628.1,748.6 629.2,745 630.4,749.6 631.7,755 632.8,749.7 633.9,742.7 635,735 636.2,727.5 637.5,721.7 638.8,726.5 640,731.7 641.7,756.7 642.8,748.2 643.9,743.3 645,735 646.2,733.9 647.5,731.7 648.8,738 650,741.7 651.1,739.3 652.2,735.6 653.3,731.7 654.4,730 655.4,726.9 656.5,722.8 657.5,721.7 658.6,720.3 659.7,716.6 660.8,716.7 662.1,711.3 663.3,708.3 664.4,713 665.4,714.3 666.5,718.2 667.5,723.3 668.5,718.6 669.5,718 670.5,712.2 671.5,708.4 672.5,706.7 673.6,710.1 674.7,709.8 675.8,713.3 676.9,715.3 677.9,715.6 679,717 680,716.7 681,721.1 682.1,722.8 683.1,726.4 684.2,728.3 685.2,729.7 686.2,735.1 687.3,737.1 688.3,740 689.4,735.7 690.6,728.7 691.7,725 692.9,737.5 694.2,748.3 695.8,766.7 697.1,758.1 698.3,746.7 699.8,744.2 701.1,747.9 702.4,754.6 703.7,752.7 705,752 706.6,740 708.1,733.8 709.2,729.8 710.2,725.4 711.2,725 712.3,722.3 713.9,710.8 714.9,698.3 715.9,694.7 717.5,701.5 718.5,702.7 719.6,704.5 720.6,706.9 721.7,709.8 723.2,695.2 724.8,702.5 726.4,725.4 727.9,711.9 729.5,700.4 731,683.8 731.6,676.5 732.6,680.5 733.6,683.8 734.7,673.3 736,671.6 737.3,668.1 738.9,678.5 740.2,674 741.5,670.2 742.5,661.9 743.8,660.9 745.1,660.8 746.1,655.3 747.2,650.4 748.8,643.1 750.4,624.8 751.5,632.9 752.5,642 753.8,636.8 755.1,632.1 756.4,630.1 757.7,631 758.8,627.9 759.8,624.8 760.8,624.3 761.9,620.6 762.9,622.9 764,625.8 765.5,613.3 766.8,609 768.1,602.9 769.7,577.9 771,571.6 772.3,567.5 773.3,567.1 774.4,565.4 775.9,570.6 777.5,562.3 778.8,562.6 780.1,561.2 781.5,574.8 782.1,597.7 783.5,610.7 785.3,594.6 786.9,602.9 787.9,593.1 789,582.1 790,575.9 791,569.6 792.6,552.9 793.6,551.8 794.7,550.8 796.2,557.1 797.3,545.6 798.6,545.1 799.9,543.5 800.9,556 802.8,552.9 803.5,571.7 805.1,575.8 805.8,592.5 807.7,609.2 808.8,573.8 809.8,575.8 810.8,573.9 811.9,575.8 813.4,566.5 815,573.8 816.6,602.9 817.6,603.4 818.6,606.6 819.7,605.6 820.7,602.9 822.3,576.9 823.3,576.7 824.4,573.8 825.4,579 826.5,584.2 827.8,584 829.1,584.2 830.4,579.7 831.7,573.8 833.2,595.6 834.3,588.8 835.3,584.2 836.4,576.1 837.4,569.6 839,579 840,585.7 841,594.6 842.6,607.6 844.2,596.7 845.7,602.9 846.8,623.8 847.8,636.2 849.4,620.6 850.9,627.4 852,618.1 853,608.1 854.3,604.4 855.6,601.9 856.9,597.6 858.2,595.1 859.3,598.4 860.3,601.9 861.4,602.9 862.4,598.6 863.4,595.6 864.5,597.9 865.5,598.8 866.6,590.1 867.6,582.1 868.9,582.2 870.2,580 871.2,592.5 872.6,591.2 873.9,589.4 875.4,575.8 877,567.5 878,568.8 879.1,571.7 880.1,569.7 881.1,569.6 882.7,580 884,574.7 885.3,572.7 886.4,578.9 887.4,585.2 888.7,589.5 890,594.6 891,582.5 892.1,572.7 893.6,573.8 894.7,584.2 896,573.8 896.8,550.8 898.3,535.2 899.4,529.1 900.6,523.4 901.7,518.3 902.9,523.4 904.2,526.7 905.3,527.1 906.4,531.7 907.5,531.7 908.5,527.8 909.6,524.5 910.6,520.3 911.7,516.7 912.9,508.2 914.2,497.5 915.3,498.3 916.5,497 917.7,496.4 918.8,496.9 920,495.8 921.2,501.6 922.5,505 923.6,504.1 924.7,504.7 925.8,503.3 927.1,509.1 928.3,511.7 929.4,510.4 930.6,508.5 931.7,508.3 932.8,513.5 933.9,521.3 935,526.7 936,528.5 937.1,530.7 938.1,531.6 939.2,531.7 940.3,532.5 941.4,533.9 942.5,536.7 943.6,530.8 944.7,525.6 945.8,521.7 946.9,519.9 947.9,517.9 949,515.5 950,511.7 951.1,504.2 952.2,499.6 953.3,491.7 954.4,487.3 955.4,483.9 956.5,481.2 957.5,476.7 959.2,472.1 960.7,479.4 962.3,465.8 963.9,460.6 965.4,456.5 966.5,457.7 967.5,461.7 968.5,462.4 969.6,465.8 970.6,475.2 972.2,465.8 973.8,474.2 975.3,487.7 976.4,475.8 977.4,461.7 979,472.1 980,474.5 981,478.3 982.1,484.6 983.1,491.9 984.7,482.5 986.2,466.9 987.8,456.5 989.4,449.2 990.9,455.4 992.5,452.3 993.5,455.2 994.6,457.5 995.1,474.2 996.7,495 998,494.6 999.3,492.9 1000.3,494.4 1001.4,499.2 1002.9,511.7 1004.5,524.2 1006,532 1007.4,548.3 1008.7,565.8 1009.8,550.2 1010.8,535 1012,531.1 1013.3,527.3 1014.3,522.9 1015.4,520.8 1016.5,518.7 1017.5,513.8 1019.2,533 1020.5,518.8 1021.7,505.4 1023.4,528 1025,540 1026.5,530.7 1027.9,521 1029.3,531.7 1030.8,545 1032,553 1033.3,562.5 1035,551.7 1036,560.2 1037,567.5 1038.1,551.6 1039.2,538.3 1040.9,511.7 1042,515.1 1043,515.8 1044.6,503.3 1045.7,501 1046.7,496 1048.2,511.7 1049.8,524.2 1051.7,566.7 1053.3,590 1054.3,596.1 1055.3,605 1056.4,600.7 1057.5,593.3 1058.8,588.3 1060,584.2 1061.2,593 1062.5,600 1064.2,606.7 1065.4,595.9 1066.7,583.3 1067.7,579.3 1068.7,576.7 1069.8,586.4 1070.8,595 1072.1,612.2 1073.3,628.3 1074.6,620.2 1075.8,610 1077.5,598.3 1078.6,610.3 1079.7,624.8 1080.8,636.7 1082.1,626.6 1083.3,613.3 1084.6,606.4 1085.8,598.3 1086.9,595.1 1088,591.7 1089,595.4 1090,601.7 1091.2,614.1 1092.5,626.7 1093.8,638.7 1095,651.7 1096.3,671.7 1097.3,667.4 1098.3,661.7 1100,671.7 1101.7,651.7 1102.9,658.1 1104.2,663.3 1105.4,678.6 1106.7,693.3 1107.9,683.9 1109.2,676.7 1110.8,668.3 1112.5,678.3 1113.8,668 1115,656.7 1116.2,647.1 1117.5,636.7 1118.8,624.7 1120,615 1121.7,628.3 1122.9,617.2 1124.2,603.3 1125.2,594.7 1126.3,585 1127.3,591.2 1128.3,600 1129.3,623.3 1130.8,593.3 1132.1,591.1 1133.3,585.8 1134.6,589.2 1135.8,595 1137.1,600.3 1138.3,606.7 1140,613.3 1141.1,619.1 1142.2,623.7 1143.3,628.3 1145,653.3 1146.1,651.3 1147.2,649.4 1148.3,646.7 1150,635 1151.2,645.7 1152.5,656.7 1153.6,656.6 1154.7,656.7 1155.8,658.3 1157.1,665.2 1158.3,675 1159.4,669.6 1160.6,663.6 1161.7,656.7 1162.9,643.9 1164.2,630.8 1165.4,645.4 1166.7,658.3 1167.8,663.4 1168.9,668.6 1170,675 1171.2,669.6 1172.5,665 1173.8,659.6 1175,651.7 1176.2,645.9 1177.5,643.3 1178.8,648.3 1180,653.3 1181.7,633.3 1182.9,629.1 1184.2,626.7 1185.8,611.7 1187.5,586.7 1188.6,578.4 1189.7,568.3 1191.1,577 1192.5,586.7 1194.2,573.3 1195.3,575.5 1196.4,578.6 1197.5,581.7 1198.8,574.3 1200,566.7 1201.1,574.3 1202.2,579.5 1203.3,586.7 1204.4,581.7 1205.6,573.1 1206.7,568.3 1207.9,575.9 1209.2,585 1210.4,590.3 1211.7,598.3 1212.9,601.2 1214.2,606.7 1215.4,614.3 1216.7,620 1217.9,614.9 1219.2,608.3 1220.3,604.5 1221.4,601.7 1222.5,600 1224.2,580 1225.4,574.7 1226.7,570 1227.9,566.7 1229.2,561.7 1230.4,556.1 1231.7,548.3 1232.8,547 1233.9,544.2 1235,541.7 1236.2,542.1 1237.5,545 1239.2,525 1240.8,538.3 1241.9,537.4 1242.9,536 1244,536.6 1245,535.8 1246.2,539 1247.5,541.7 1248.8,551.5 1250,563.3 1251.1,559.7 1252.2,558.7 1253.3,555 1254.4,552.6 1255.4,554.4 1256.5,553.8 1257.5,551.7 1258.8,560.7 1260,566.7 1261.2,571.3 1262.5,576.7 1263.6,571.8 1264.7,566.9 1265.8,561.7 1266.9,559.3 1268.1,557.7 1269.2,553.3 1270.3,557.9 1271.4,560.4 1272.5,565 1273.8,556.6 1275,545.8 1276.2,554.5 1277.5,563.3 1278.6,564.2 1279.7,565.2 1280.8,565 1282.1,566.6 1283.3,571.7 1284.4,572 1285.6,571.1 1286.7,570 1287.9,575.8 1289.2,581.7 1290,601.7 1291,609.2 1292,616.7 1293,612.1 1294,606.7 1295,603.3 1296.1,601.8 1297.2,598.4 1298.3,598.3 1299.6,596.7 1300.8,595 1302.5,575 1304.2,553.3 1305.4,547.2 1306.7,540 1307.7,547.3 1308.7,555 1310,528.3 1311.1,527.4 1312.2,527.7 1313.3,525 1315,533.3 1316.2,529.7 1317.5,523.3 1318.6,519.3 1319.7,518.8 1320.8,515 1322.1,519.6 1323.3,523.3 1324.6,521.8 1325.8,523.3 1327.5,536.7 1328.8,526.2 1330,516.7 1331.2,509.9 1332.5,505 1333.8,513.6 1335,525 1336,517.2 1337.1,510.6 1338.1,500.6 1339.2,493.3 1340.4,496.3 1341.7,496.7 1342.9,506.5 1344.2,515 1345.3,512.6 1346.4,514 1347.5,511.7 1348.8,519.5 1350,526.7 1351.2,533.1 1352.5,536.7 1353.6,544.1 1354.7,550.8 1355.8,556.7 1357.1,557.8 1358.3,560 1359.6,566 1360.8,570 1361.9,564.2 1363.1,556.8 1364.2,548.3 1365.8,563.3 1366.8,558.6 1367.8,555.2 1368.8,549.8 1369.8,544 1370.8,540.8 1371.9,544 1373.1,548.8 1374.2,555 1375.4,558.1 1376.7,563.3 1377.8,555 1378.9,560.5 1380,568.3 1381.2,574.2 1382.5,580 1383.8,580.7 1385,580 1386.2,571.8 1387.5,563.3 1388.8,564.7 1390,566.7 1391,563 1392.1,557.7 1393.1,554 1394.2,550 1395.4,559.2 1396.7,566.7 1398.3,581.7 1399.6,588.8 1400.8,596.7 1402.2,611.1 1403.9,634.4 1405,641.1 1406.1,650 1407.8,637.8 1409.4,624.4 1410.2,606.7 1411.7,608.9 1413.6,623.3 1414.6,606.7 1415.9,590 1417,586.4 1418.1,580.7 1419.2,575 1420.3,566.7 1421.3,569.5 1422.3,572.9 1423.3,576.7 1424.6,575.1 1425.8,573.3 1427.1,578.4 1428.4,581.8 1429.7,587.5 1430.7,572.9 1431.7,561.7 1432.9,554.8 1434.2,550 1435.8,536.7 1437.1,541 1438.3,543.3 1439.4,534.9 1440.6,528.8 1441.7,521.7 1442.9,524.8 1444.2,530 1445.4,533.2 1446.7,538.3 1448.3,560 1449.6,556.4 1450.8,555 1451.8,558 1452.8,560.5 1453.8,563.4 1454.8,567 1455.8,571.7 1456.9,559.4 1458.1,549.4 1459.2,538.3 1460.3,542.9 1461.4,548.9 1462.5,556.7 1463.6,567.6 1464.7,578.6 1465.8,590 1467.1,589.9 1468.3,588.3 1469.6,571 1470.8,556.7 1472.1,565.5 1473.3,575 1474.4,578 1475.6,580.1 1476.7,585 1477.7,588 1478.8,587 1479.8,588 1480.8,590.8 1481.9,586 1483.1,580.2 1484.2,576.7 1485.3,571.2 1486.4,564.5 1487.5,559.2 1488.6,567.1 1489.7,576 1490.8,586.7 1491.9,592 1493,595.8 1494.4,586.3 1495.8,578.3 1496.9,573.8 1498.1,567.1 1499.2,561.7 1500.3,559.8 1501.4,554.3 1502.5,551.7 1504.2,543.3 1505.4,536.2 1506.7,530.8 1507.9,541.3 1509.2,553.3 1510.4,562.7 1511.7,570 1512.9,580.4 1514.2,590 1515.4,577.8 1516.7,566.7 1518.3,543.3 1520,553.3 1521.1,545.3 1522.2,540.6 1523.3,533.3 1524.6,528.3 1525.8,520 1527.1,521.1 1528.3,521.7 1530,513.3 1531.2,510 1532.5,510 1533.8,512.6 1535,518.3 1536.7,508.3 1537.9,510.7 1539.2,515.8 1540.4,516.8 1541.7,520 1542.9,528.4 1544.2,540 1545.4,531 1546.7,525 1547.9,530.5 1549.2,535 1550.4,534.3 1551.7,530.8 1552.8,529 1553.9,530.8 1555,528.3 1556.2,524.9 1557.5,521.7 1558.8,516.9 1560,510 1561.2,505.6 1562.5,498.3 1564.2,471.7 1565.8,461.7 1566.9,455.7 1568,446.7 1569,455.9 1570,468.3 1571.2,466 1572.5,465 1574.2,511.7 1575.4,519.5 1576.7,526.7 1578.3,560 1579.4,572.9 1580.6,581.4 1581.7,594.2 1582.9,579.7 1584.2,566.7 1585.8,530 1587.1,528.7 1588.3,525 1590,527.5 1591.2,519.9 1592.5,515 1594.2,523.3 1595.4,509.2 1596.7,495.8 1597.9,510.7 1599.2,526.7 1600.2,535.6 1601.3,543.3 1602.3,539.8 1603.3,533.3 1604.6,525.6 1605.8,520 1607.1,510 1608.3,498.3 1609.6,497.5 1610.8,495 1612.1,488.6 1613.3,480 1614.6,489.3 1615.8,498.3 1617.5,486.7 1618.8,485.6 1620,481.7 1621.3,481.7 1623,464.2 1624.4,467.5 1625.8,471.7 1627.2,470.5 1628.7,470 1629.8,477.4 1630.8,486.7 1631.9,480.1 1633,471.7 1634,489.1 1635,506.7 1636.2,496.7 1637.5,488.3 1638.8,474.7 1640,463.3 1641.2,480.8 1642.5,496.7 1643.8,510.8 1645,524.2 1646.2,507 1647.5,488.3 1649.2,458.3 1650.4,453.8 1651.7,450 1652.9,445.8 1654.2,441.7 1655,432.5 1656.2,440.9 1657.5,451.7 1658.8,446.5 1660,440 1661.2,440 1662.5,443.3 1664.2,461.7 1665.8,475 1667.1,466.6 1668.3,458.3 1669.4,465.3 1670.6,471.2 1671.7,476.7 1672.8,467.2 1673.9,459.7 1675,452.5 1676.2,455.8 1677.5,456.7 1678.6,463 1679.7,468.3 1681.1,458.8 1682.5,446.7 1684.2,421.7 1685.6,422.5 1687,420.8 1688.3,428.3 1689.7,475 1690.7,469.4 1691.7,464.2 1692.7,475 1694.2,458.3 1695.3,481.7 1696.7,523.3 1697.9,533 1699.2,540 1700.4,532.5 1701.7,523.3 1702.7,521.9 1703.7,521.7 1704.8,531.2 1705.8,541.7 1707.5,565 1709.2,556.7 1710.8,576.7 1712.5,558.3 1714.2,570 1715.4,576.9 1716.6,586.7 1718.1,561.7 1719.7,556.5 1720.7,557.2 1721.8,558.5 1723.3,550.2 1724.9,551.2 1725.9,572.1 1727.5,591.9 1729.2,610 1730.3,650.7 1731.5,680.9 1732.8,706.7 1734.3,679.2 1735.9,665 1736.9,670.1 1737.9,679 1739.2,679.4 1740.4,679.2 1741.5,667 1743,645.6 1744.5,628.3 1745.7,625.2 1746.8,607.7 1747.8,592.9 1749.4,591.9 1750.9,590.8 1752,578.3 1753.5,551.2 1754.1,535.6 1755.6,533.5 1757,529.9 1758.2,539.8 1759.8,551.2 1761.4,562.7 1762.9,554.4 1764.5,563.8 1765.8,562.7 1767.1,546 1768.6,548.1 1770.2,536.7 1771.8,527.3 1772.8,536.3 1773.9,548.1 1775.4,538.8 1776.5,537.7" fill="none" stroke="#2f7d72" stroke-width="3.2" stroke-linejoin="round" stroke-linecap="round"/>

<rect x="86" y="46.5" width="1749" height="948" fill="none" stroke="#000" stroke-width="4.1" stroke-linejoin="round"/>
<g stroke="#000" stroke-width="1.5" fill="none"><line x1="76" y1="994.8" x2="86" y2="994.8"/><line x1="1835" y1="994.8" x2="1845" y2="994.8"/><line x1="76" y1="936.5" x2="86" y2="936.5"/><line x1="1835" y1="936.5" x2="1845" y2="936.5"/><line x1="76" y1="885.3" x2="86" y2="885.3"/><line x1="1835" y1="885.3" x2="1845" y2="885.3"/><line x1="76" y1="840.2" x2="86" y2="840.2"/><line x1="1835" y1="840.2" x2="1845" y2="840.2"/><line x1="76" y1="799.8" x2="86" y2="799.8"/><line x1="1835" y1="799.8" x2="1845" y2="799.8"/><line x1="76" y1="534.3" x2="86" y2="534.3"/><line x1="1835" y1="534.3" x2="1845" y2="534.3"/><line x1="76" y1="379" x2="86" y2="379"/><line x1="1835" y1="379" x2="1845" y2="379"/><line x1="76" y1="268.8" x2="86" y2="268.8"/><line x1="1835" y1="268.8" x2="1845" y2="268.8"/><line x1="76" y1="183.4" x2="86" y2="183.4"/><line x1="1835" y1="183.4" x2="1845" y2="183.4"/><line x1="76" y1="113.5" x2="86" y2="113.5"/><line x1="1835" y1="113.5" x2="1845" y2="113.5"/><line x1="76" y1="54.5" x2="86" y2="54.5"/><line x1="1835" y1="54.5" x2="1845" y2="54.5"/><line x1="81" y1="982.9" x2="86" y2="982.9"/><line x1="1835" y1="982.9" x2="1840" y2="982.9"/><line x1="81" y1="970.8" x2="86" y2="970.8"/><line x1="1835" y1="970.8" x2="1840" y2="970.8"/><line x1="81" y1="959" x2="86" y2="959"/><line x1="1835" y1="959" x2="1840" y2="959"/><line x1="81" y1="947.6" x2="86" y2="947.6"/><line x1="1835" y1="947.6" x2="1840" y2="947.6"/><line x1="81" y1="925.7" x2="86" y2="925.7"/><line x1="1835" y1="925.7" x2="1840" y2="925.7"/><line x1="81" y1="915.2" x2="86" y2="915.2"/><line x1="1835" y1="915.2" x2="1840" y2="915.2"/><line x1="81" y1="905" x2="86" y2="905"/><line x1="1835" y1="905" x2="1840" y2="905"/><line x1="81" y1="895" x2="86" y2="895"/><line x1="1835" y1="895" x2="1840" y2="895"/><line x1="81" y1="875.9" x2="86" y2="875.9"/><line x1="1835" y1="875.9" x2="1840" y2="875.9"/><line x1="81" y1="866.6" x2="86" y2="866.6"/><line x1="1835" y1="866.6" x2="1840" y2="866.6"/><line x1="81" y1="857.6" x2="86" y2="857.6"/><line x1="1835" y1="857.6" x2="1840" y2="857.6"/><line x1="81" y1="848.8" x2="86" y2="848.8"/><line x1="1835" y1="848.8" x2="1840" y2="848.8"/><line x1="81" y1="831.8" x2="86" y2="831.8"/><line x1="1835" y1="831.8" x2="1840" y2="831.8"/><line x1="81" y1="823.5" x2="86" y2="823.5"/><line x1="1835" y1="823.5" x2="1840" y2="823.5"/><line x1="81" y1="815.5" x2="86" y2="815.5"/><line x1="1835" y1="815.5" x2="1840" y2="815.5"/><line x1="81" y1="807.6" x2="86" y2="807.6"/><line x1="1835" y1="807.6" x2="1840" y2="807.6"/><line x1="81" y1="730" x2="86" y2="730"/><line x1="1835" y1="730" x2="1840" y2="730"/><line x1="81" y1="671" x2="86" y2="671"/><line x1="1835" y1="671" x2="1840" y2="671"/><line x1="81" y1="619.8" x2="86" y2="619.8"/><line x1="1835" y1="619.8" x2="1840" y2="619.8"/><line x1="81" y1="574.7" x2="86" y2="574.7"/><line x1="1835" y1="574.7" x2="1840" y2="574.7"/><line x1="81" y1="497.8" x2="86" y2="497.8"/><line x1="1835" y1="497.8" x2="1840" y2="497.8"/><line x1="81" y1="464.5" x2="86" y2="464.5"/><line x1="1835" y1="464.5" x2="1840" y2="464.5"/><line x1="81" y1="433.9" x2="86" y2="433.9"/><line x1="1835" y1="433.9" x2="1840" y2="433.9"/><line x1="81" y1="405.5" x2="86" y2="405.5"/><line x1="1835" y1="405.5" x2="1840" y2="405.5"/><line x1="81" y1="354.3" x2="86" y2="354.3"/><line x1="1835" y1="354.3" x2="1840" y2="354.3"/><line x1="81" y1="331.1" x2="86" y2="331.1"/><line x1="1835" y1="331.1" x2="1840" y2="331.1"/><line x1="81" y1="309.2" x2="86" y2="309.2"/><line x1="1835" y1="309.2" x2="1840" y2="309.2"/><line x1="81" y1="288.5" x2="86" y2="288.5"/><line x1="1835" y1="288.5" x2="1840" y2="288.5"/><line x1="81" y1="250.2" x2="86" y2="250.2"/><line x1="1835" y1="250.2" x2="1840" y2="250.2"/><line x1="81" y1="232.3" x2="86" y2="232.3"/><line x1="1835" y1="232.3" x2="1840" y2="232.3"/><line x1="81" y1="215.3" x2="86" y2="215.3"/><line x1="1835" y1="215.3" x2="1840" y2="215.3"/><line x1="81" y1="199" x2="86" y2="199"/><line x1="1835" y1="199" x2="1840" y2="199"/><line x1="81" y1="168.4" x2="86" y2="168.4"/><line x1="1835" y1="168.4" x2="1840" y2="168.4"/><line x1="81" y1="153.9" x2="86" y2="153.9"/><line x1="1835" y1="153.9" x2="1840" y2="153.9"/><line x1="81" y1="140" x2="86" y2="140"/><line x1="1835" y1="140" x2="1840" y2="140"/><line x1="81" y1="126.5" x2="86" y2="126.5"/><line x1="1835" y1="126.5" x2="1840" y2="126.5"/><line x1="81" y1="101" x2="86" y2="101"/><line x1="1835" y1="101" x2="1840" y2="101"/><line x1="81" y1="88.8" x2="86" y2="88.8"/><line x1="1835" y1="88.8" x2="1840" y2="88.8"/><line x1="81" y1="77" x2="86" y2="77"/><line x1="1835" y1="77" x2="1840" y2="77"/><line x1="81" y1="65.6" x2="86" y2="65.6"/><line x1="1835" y1="65.6" x2="1840" y2="65.6"/><line x1="86.2" y1="994" x2="86.2" y2="1004"/><line x1="142.9" y1="994" x2="142.9" y2="1000"/><line x1="199.5" y1="994" x2="199.5" y2="1000"/><line x1="256.2" y1="994" x2="256.2" y2="1000"/><line x1="312.3" y1="994" x2="312.3" y2="1004"/><line x1="369" y1="994" x2="369" y2="1000"/><line x1="425.6" y1="994" x2="425.6" y2="1000"/><line x1="482.3" y1="994" x2="482.3" y2="1000"/><line x1="539" y1="994" x2="539" y2="1004"/><line x1="595.7" y1="994" x2="595.7" y2="1000"/><line x1="652.3" y1="994" x2="652.3" y2="1000"/><line x1="709" y1="994" x2="709" y2="1000"/><line x1="766.5" y1="994" x2="766.5" y2="1004"/><line x1="823.2" y1="994" x2="823.2" y2="1000"/><line x1="879.8" y1="994" x2="879.8" y2="1000"/><line x1="936.5" y1="994" x2="936.5" y2="1000"/><line x1="993.5" y1="994" x2="993.5" y2="1004"/><line x1="1050.2" y1="994" x2="1050.2" y2="1000"/><line x1="1106.8" y1="994" x2="1106.8" y2="1000"/><line x1="1163.5" y1="994" x2="1163.5" y2="1000"/><line x1="1220" y1="994" x2="1220" y2="1004"/><line x1="1276.7" y1="994" x2="1276.7" y2="1000"/><line x1="1333.3" y1="994" x2="1333.3" y2="1000"/><line x1="1390" y1="994" x2="1390" y2="1000"/><line x1="1445.5" y1="994" x2="1445.5" y2="1004"/><line x1="1502.2" y1="994" x2="1502.2" y2="1000"/><line x1="1558.8" y1="994" x2="1558.8" y2="1000"/><line x1="1615.5" y1="994" x2="1615.5" y2="1000"/><line x1="1673" y1="994" x2="1673" y2="1004"/><line x1="1729.7" y1="994" x2="1729.7" y2="1000"/><line x1="1786.3" y1="994" x2="1786.3" y2="1000"/></g>
<g font-size="22.8" fill="#000" stroke="#000" stroke-width="0.45"><text x="67.5" y="1001" text-anchor="end">600</text><text x="1852.5" y="1001" text-anchor="start">600</text><text x="67.5" y="943.4" text-anchor="end">700</text><text x="1852.5" y="943.4" text-anchor="start">700</text><text x="67.5" y="892.2" text-anchor="end">800</text><text x="1852.5" y="892.2" text-anchor="start">800</text><text x="67.5" y="847.1" text-anchor="end">900</text><text x="1852.5" y="847.1" text-anchor="start">900</text><text x="67.5" y="806.7" text-anchor="end">1000</text><text x="1852.5" y="806.7" text-anchor="start">1000</text><text x="67.5" y="541.2" text-anchor="end">2000</text><text x="1852.5" y="541.2" text-anchor="start">2000</text><text x="67.5" y="385.9" text-anchor="end">3000</text><text x="1852.5" y="385.9" text-anchor="start">3000</text><text x="67.5" y="275.7" text-anchor="end">4000</text><text x="1852.5" y="275.7" text-anchor="start">4000</text><text x="67.5" y="190.3" text-anchor="end">5000</text><text x="1852.5" y="190.3" text-anchor="start">5000</text><text x="67.5" y="120.4" text-anchor="end">6000</text><text x="1852.5" y="120.4" text-anchor="start">6000</text><text x="67.5" y="61.4" text-anchor="end">7000</text><text x="1852.5" y="61.4" text-anchor="start">7000</text><text x="199.2" y="1029.1" text-anchor="middle">2018</text><text x="425.6" y="1029.1" text-anchor="middle">2019</text><text x="652.8" y="1029.1" text-anchor="middle">2020</text><text x="880" y="1029.1" text-anchor="middle">2021</text><text x="1106.8" y="1029.1" text-anchor="middle">2022</text><text x="1332.8" y="1029.1" text-anchor="middle">2023</text><text x="1559.2" y="1029.1" text-anchor="middle">2024</text><text x="1753" y="1029.1" text-anchor="middle">2025</text></g>
<rect x="90" y="51" width="792" height="90" fill="#2f7d72"/>
<text x="486" y="84.5" font-size="30.8" fill="#f6fffd" stroke="#f6fffd" stroke-width="0.4" text-anchor="middle">S&amp;P SEMICONDUCTORS STOCK PRICE INDEXES</text>
<text x="486" y="127" font-size="30.8" fill="#f6fffd" stroke="#f6fffd" stroke-width="0.4" text-anchor="middle">(daily, ratio scale)</text>
<rect x="92.5" y="145.5" width="413.75" height="90" fill="#fff" stroke="#000" stroke-width="2.5"/>
<line x1="99.5" y1="162.5" x2="153.5" y2="162.5" stroke="#0000ff" stroke-width="3.2"/>
<text x="162" y="169.7" font-size="23.85" fill="#000" stroke="#000" stroke-width="0.45">S&amp;P 500 (Jun 20 = 6,327.87)</text>
<line x1="99.5" y1="189.5" x2="153.5" y2="189.5" stroke="#ff0000" stroke-width="3.2"/>
<text x="162" y="196.7" font-size="23.85" fill="#000" stroke="#000" stroke-width="0.45">S&amp;P 400 (Jun 20 = 2,000.21)</text>
<line x1="99.5" y1="216.5" x2="153.5" y2="216.5" stroke="#2f7d72" stroke-width="3.2"/>
<text x="162" y="223.7" font-size="23.85" fill="#000" stroke="#000" stroke-width="0.45">S&amp;P 600 (Jun 20 = 1,995.36)</text>
<text x="89" y="1067.5" font-size="24" fill="#000" stroke="#000" stroke-width="0.4">Source: LSEG Datastream and © Yardeni Research, and Standard &amp; Poor's.</text>
</svg></body></html>
